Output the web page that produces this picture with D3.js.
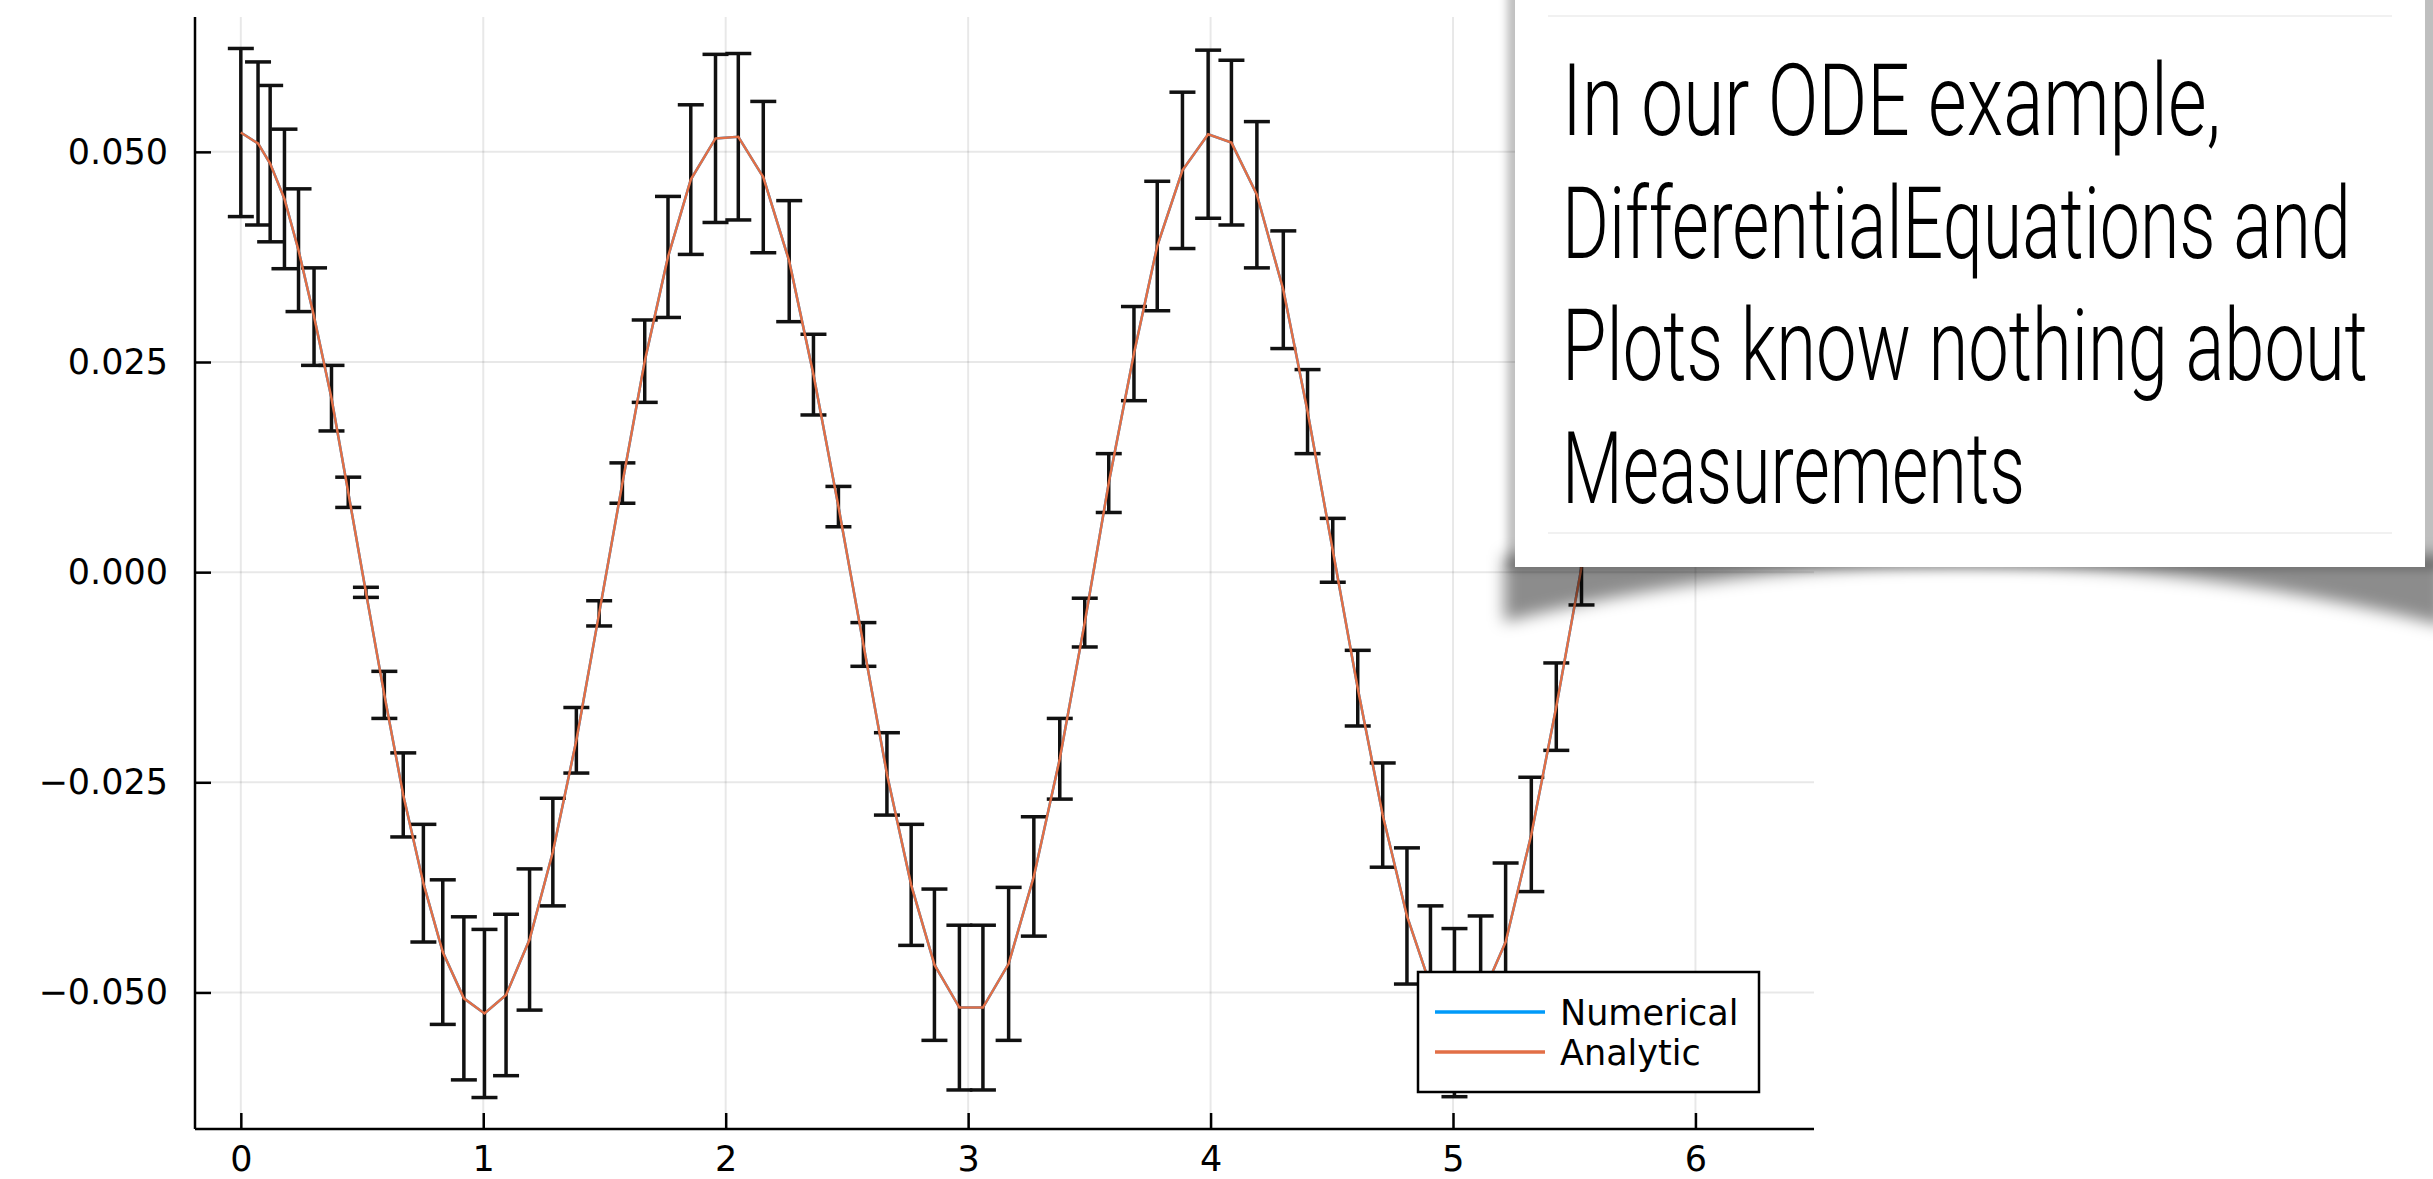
<!DOCTYPE html>
<meta charset="utf-8">
<style>
body { margin: 0; background: #fff; }
svg { display: block; }
.grid line { stroke: #000; stroke-opacity: .09; stroke-width: 2px; }
.axis path, .axis line { stroke: #000; stroke-width: 2.5px; }
.axis text { font-family: "DejaVu Sans", sans-serif; font-size: 35px; fill: #000; }
.bar { stroke: #111; stroke-width: 3.5px; fill: none; }
.note { font-family: Roboto, sans-serif; font-weight: 300; font-size: 101px; fill: #000; }
</style>
<body>
<script src="https://cdn.jsdelivr.net/npm/d3@7"></script>
<script>

var width = 2433,
    height = 1179;

// time steps of the solver
var tValues = [0.000, 0.071, 0.121, 0.180, 0.238, 0.302, 0.374, 0.443, 0.516, 0.592,
  0.670, 0.753, 0.833, 0.920, 1.005, 1.094, 1.191, 1.287, 1.384, 1.478,
  1.574, 1.666, 1.762, 1.856, 1.958, 2.052, 2.155, 2.262, 2.362, 2.465,
  2.568, 2.665, 2.765, 2.861, 2.964, 3.061, 3.167, 3.271, 3.378, 3.481,
  3.580, 3.684, 3.780, 3.884, 3.990, 4.086, 4.191, 4.300, 4.400, 4.504,
  4.607, 4.710, 4.810, 4.907, 5.006, 5.114, 5.217, 5.323, 5.426, 5.530];

// Numerical solution, value and uncertainty
var numerical = [0.0523, 0.0510, 0.0486, 0.0444, 0.0383, 0.0304, 0.0207, 0.0095, -0.0024, -0.0146,
  -0.0265, -0.0370, -0.0452, -0.0507, -0.0525, -0.0503, -0.0437, -0.0333, -0.0200, -0.0049,
  0.0106, 0.0251, 0.0375, 0.0467, 0.0516, 0.0518, 0.0470, 0.0370, 0.0235, 0.0078,
  -0.0086, -0.0240, -0.0372, -0.0467, -0.0518, -0.0518, -0.0466, -0.0362, -0.0222, -0.0060,
  0.0106, 0.0260, 0.0388, 0.0478, 0.0521, 0.0511, 0.0449, 0.0336, 0.0191, 0.0026,
  -0.0138, -0.0289, -0.0409, -0.0492, -0.0524, -0.0508, -0.0440, -0.0312, -0.0160, 0.0006];

var numericalErr = [0.0100, 0.0097, 0.0093, 0.0083, 0.0073, 0.0058, 0.0039, 0.0018, 0.0006, 0.0028,
  0.0050, 0.0070, 0.0086, 0.0097, 0.0100, 0.0096, 0.0084, 0.0064, 0.0039, 0.0015,
  0.0024, 0.0049, 0.0072, 0.0089, 0.0100, 0.0099, 0.0090, 0.0072, 0.0048, 0.0024,
  0.0026, 0.0049, 0.0072, 0.0090, 0.0098, 0.0098, 0.0091, 0.0071, 0.0048, 0.0029,
  0.0035, 0.0056, 0.0077, 0.0093, 0.0100, 0.0098, 0.0087, 0.0070, 0.0050, 0.0038,
  0.0045, 0.0062, 0.0081, 0.0095, 0.0100, 0.0099, 0.0094, 0.0068, 0.0052, 0.0045];

// Analytic solution at the same times
var analytic = [0.0523, 0.0510, 0.0486, 0.0444, 0.0383, 0.0304, 0.0207, 0.0095, -0.0024, -0.0146,
  -0.0265, -0.0370, -0.0452, -0.0507, -0.0525, -0.0503, -0.0437, -0.0333, -0.0200, -0.0049,
  0.0106, 0.0251, 0.0375, 0.0467, 0.0516, 0.0518, 0.0470, 0.0370, 0.0235, 0.0078,
  -0.0086, -0.0240, -0.0372, -0.0467, -0.0518, -0.0518, -0.0466, -0.0362, -0.0222, -0.0060,
  0.0106, 0.0260, 0.0388, 0.0478, 0.0521, 0.0511, 0.0449, 0.0336, 0.0191, 0.0026,
  -0.0138, -0.0289, -0.0409, -0.0492, -0.0524, -0.0508, -0.0440, -0.0312, -0.0160, 0.0006];

var tspan = [0, 6.3];
var xTicks = [0, 1, 2, 3, 4, 5, 6];
var yTicks = [-0.05, -0.025, 0, 0.025, 0.05];
var seriesNames = ["Numerical", "Analytic"];
var seriesColors = ["#009af9", "#e26f46"];

var noteLines = ["In our ODE example,", "DifferentialEquations and",
  "Plots know nothing about", "Measurements"];
var noteWidths = [659, 789, 806, 463];

var plot = {left: 195, right: 1814, top: 17, bottom: 1129};

// Plots.jl style 3% padding
function padded(lo, hi) {
  var p = (hi - lo) * 0.03;
  return [lo - p, hi + p];
}

var yLo = d3.min(numerical, function(d, i) { return d - numericalErr[i]; }),
    yHi = d3.max(numerical, function(d, i) { return d + numericalErr[i]; });

var x = d3.scaleLinear()
    .domain(padded(tspan[0], tspan[1]))
    .range([plot.left, plot.right]);

var y = d3.scaleLinear()
    .domain(padded(yLo, yHi))
    .range([plot.bottom, plot.top]);

var svg = d3.select("body").append("svg")
    .attr("width", width)
    .attr("height", height);

var defs = svg.append("defs");
defs.append("filter").attr("id", "blur").attr("x", "-20%").attr("y", "-50%")
    .attr("width", "140%").attr("height", "200%")
  .append("feGaussianBlur").attr("stdDeviation", 8);
defs.append("filter").attr("id", "blurSmall").attr("x", "-20%").attr("y", "-20%")
    .attr("width", "140%").attr("height", "140%")
  .append("feGaussianBlur").attr("stdDeviation", 4);

// grid
var grid = svg.append("g").attr("class", "grid");
grid.selectAll(".gx").data(xTicks).enter().append("line")
    .attr("x1", x).attr("x2", x)
    .attr("y1", plot.top).attr("y2", plot.bottom);
grid.selectAll(".gy").data(yTicks).enter().append("line")
    .attr("x1", plot.left).attr("x2", plot.right)
    .attr("y1", y).attr("y2", y);

// axes
svg.append("g")
    .attr("class", "axis")
    .attr("transform", "translate(0," + plot.bottom + ")")
    .call(d3.axisBottom(x).tickValues(xTicks).tickFormat(d3.format("d"))
      .tickSizeInner(-16).tickSizeOuter(0).tickPadding(17));

svg.append("g")
    .attr("class", "axis")
    .attr("transform", "translate(" + plot.left + ",0)")
    .call(d3.axisLeft(y).tickValues(yTicks).tickFormat(d3.format(".3f"))
      .tickSizeInner(-16).tickSizeOuter(0).tickPadding(27));

svg.selectAll(".axis .domain").remove();
svg.append("line").attr("class", "axisline")
    .attr("x1", plot.left).attr("x2", plot.right)
    .attr("y1", plot.bottom).attr("y2", plot.bottom)
    .attr("stroke", "#000").attr("stroke-width", 2.5);
svg.append("line").attr("class", "axisline")
    .attr("x1", plot.left).attr("x2", plot.left)
    .attr("y1", plot.top).attr("y2", plot.bottom)
    .attr("stroke", "#000").attr("stroke-width", 2.5);

var line = d3.line()
    .x(function(d) { return x(d[0]); })
    .y(function(d) { return y(d[1]); });

// numerical line (under everything)
svg.append("path")
    .datum(d3.zip(tValues, numerical))
    .attr("fill", "none")
    .attr("stroke", seriesColors[0])
    .attr("stroke-width", 2.5)
    .attr("d", line);

// error bars
var capW = 13;
var bars = svg.append("g").attr("class", "bars")
  .selectAll("g").data(d3.range(tValues.length)).enter().append("g");

bars.append("line").attr("class", "bar")
    .attr("x1", function(i) { return x(tValues[i]); })
    .attr("x2", function(i) { return x(tValues[i]); })
    .attr("y1", function(i) { return y(numerical[i] - numericalErr[i]); })
    .attr("y2", function(i) { return y(numerical[i] + numericalErr[i]); });
bars.append("line").attr("class", "bar")
    .attr("x1", function(i) { return x(tValues[i]) - capW; })
    .attr("x2", function(i) { return x(tValues[i]) + capW; })
    .attr("y1", function(i) { return y(numerical[i] + numericalErr[i]); })
    .attr("y2", function(i) { return y(numerical[i] + numericalErr[i]); });
bars.append("line").attr("class", "bar")
    .attr("x1", function(i) { return x(tValues[i]) - capW; })
    .attr("x2", function(i) { return x(tValues[i]) + capW; })
    .attr("y1", function(i) { return y(numerical[i] - numericalErr[i]); })
    .attr("y2", function(i) { return y(numerical[i] - numericalErr[i]); });

// analytic line
svg.append("path")
    .datum(d3.zip(tValues, analytic))
    .attr("fill", "none")
    .attr("stroke", seriesColors[1])
    .attr("stroke-width", 2.5)
    .attr("d", line);

// legend
var legend = svg.append("g").attr("transform", "translate(1418,972)");
legend.append("rect")
    .attr("width", 341).attr("height", 120)
    .attr("fill", "#fff").attr("stroke", "#000").attr("stroke-width", 2.5);
var items = legend.selectAll(".item").data(seriesNames).enter().append("g")
    .attr("transform", function(d, i) { return "translate(0," + (40 + i * 40) + ")"; });
items.append("line")
    .attr("x1", 17).attr("x2", 127)
    .attr("stroke", function(d, i) { return seriesColors[i]; })
    .attr("stroke-width", 3.5);
items.append("text")
    .attr("x", 142).attr("dy", "0.36em")
    .style("font-family", "'DejaVu Sans', sans-serif")
    .style("font-size", "35px")
    .text(function(d) { return d; });

// the note card laid over the plot
var card = svg.append("g");
card.append("rect")
    .attr("x", 1507).attr("y", -20).attr("width", 938).attr("height", 590)
    .attr("fill", "#000").attr("fill-opacity", 0.25)
    .attr("filter", "url(#blurSmall)");
card.append("path")
    .attr("d", "M1504,555 L2445,555 L2445,626 Q1965,505 1504,622 Z")
    .attr("fill", "#000").attr("fill-opacity", 0.45)
    .attr("filter", "url(#blur)");
card.append("rect")
    .attr("x", 1515).attr("y", -10).attr("width", 910).attr("height", 577)
    .attr("fill", "#fff");
card.selectAll(".rule").data([16, 533]).enter().append("line")
    .attr("x1", 1548).attr("x2", 2392)
    .attr("y1", function(d) { return d; }).attr("y2", function(d) { return d; })
    .attr("stroke", "#ececec").attr("stroke-width", 1.5);

// squeeze each line horizontally to the width it has in the slide
card.selectAll(".note").data(noteLines).enter().append("text")
    .attr("class", "note")
    .text(function(d) { return d; })
    .attr("transform", function(d, i) {
      var w = this.getComputedTextLength();
      return "translate(1562," + (135 + i * 122.7) + ") scale(" + (noteWidths[i] / w) + ",1)";
    });

</script>
